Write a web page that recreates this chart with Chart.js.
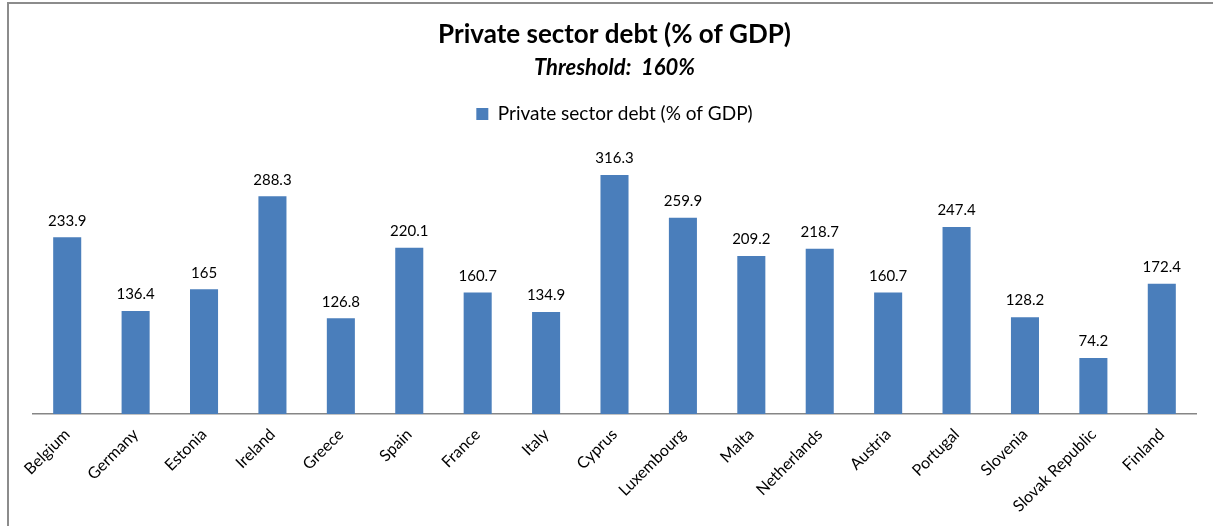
<!DOCTYPE html>
<html>
<head>
<meta charset="utf-8">
<script src="https://cdn.jsdelivr.net/npm/chart.js@4"></script>
<style>
  html, body { margin: 0; padding: 0; background: #fff; overflow: hidden; }
  .frame {
    position: absolute; left: 7px; top: 2px; width: 1220px; height: 540px;
    border-left: 2px solid #8c8c8c; border-top: 2px solid #8c8c8c;
  }
  .wrap { position: absolute; left: 0; top: 0; width: 1213px; height: 526px; }
</style>
</head>
<body>
<div class="frame"></div>
<div class="wrap"><canvas id="myChart"></canvas></div>
<script>
  const countries = [
    'Belgium', 'Germany', 'Estonia', 'Ireland', 'Greece', 'Spain', 'France', 'Italy', 'Cyprus',
    'Luxembourg', 'Malta', 'Netherlands', 'Austria', 'Portugal', 'Slovenia', 'Slovak Republic', 'Finland'
  ]
  const debt = [
    233.9, 136.4, 165, 288.3, 126.8, 220.1, 160.7, 134.9, 316.3,
    259.9, 209.2, 218.7, 160.7, 247.4, 128.2, 74.2, 172.4
  ]
  const seriesName = 'Private sector debt (% of GDP)'

  const fontFamily = 'Lato, "Open Sans", sans-serif'

  // value labels above each bar
  const barLabels = {
    id: 'barLabels',
    afterDatasetsDraw (chart) {
      const { ctx } = chart
      ctx.save()
      ctx.font = '15px ' + fontFamily
      ctx.fillStyle = '#000'
      ctx.textAlign = 'center'
      ctx.textBaseline = 'bottom'
      chart.getDatasetMeta(0).data.forEach((bar, i) => {
        ctx.fillText(String(chart.data.datasets[0].data[i]), bar.x, bar.y - 9)
      })
      ctx.restore()
    }
  }

  // extra space under the legend
  const legendGap = {
    id: 'legendGap',
    beforeInit (chart) {
      const fit = chart.legend.fit
      chart.legend.fit = function () {
        fit.call(this)
        this.height += 16
      }
    }
  }

  new Chart(document.getElementById('myChart'), {
    type: 'bar',
    data: {
      labels: countries,
      datasets: [{
        label: seriesName,
        data: debt,
        backgroundColor: '#4a7ebb',
        borderWidth: 0,
        barPercentage: 0.41,
        categoryPercentage: 1
      }]
    },
    options: {
      responsive: true,
      maintainAspectRatio: false,
      animation: false,
      layout: { padding: { left: 33, right: 17, top: 0, bottom: 0 } },
      scales: {
        x: {
          grid: { display: false, drawTicks: false },
          border: { color: '#868686', width: 1.5 },
          ticks: {
            color: '#000',
            font: { family: fontFamily, size: 16 },
            minRotation: 45,
            maxRotation: 45,
            padding: 11
          },
          afterFit (scale) { scale.height = 112 }
        },
        y: {
          display: false,
          min: 0,
          max: 350
        }
      },
      plugins: {
        title: {
          display: true,
          text: seriesName,
          color: '#000',
          font: { family: fontFamily, size: 26, weight: 'bold' },
          padding: { top: 19, bottom: 0 }
        },
        subtitle: {
          display: true,
          text: 'Threshold:  160%',
          color: '#000',
          font: { family: fontFamily, size: 22, weight: 'bold', style: 'italic' },
          padding: { top: 5, bottom: 13 }
        },
        legend: {
          display: true,
          labels: {
            color: '#000',
            font: { family: fontFamily, size: 19 },
            boxWidth: 12,
            boxHeight: 12
          }
        },
        tooltip: { enabled: false }
      }
    },
    plugins: [barLabels, legendGap]
  })
</script>
</body>
</html>
